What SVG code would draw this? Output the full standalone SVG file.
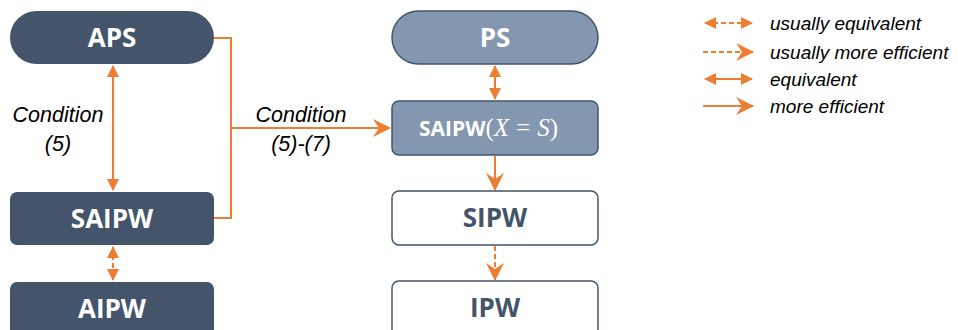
<svg xmlns="http://www.w3.org/2000/svg" width="958" height="330" viewBox="0 0 958 330">
<style>
.dark{fill:#44546A}
.mid{fill:#8497B0;stroke:#44546A;stroke-width:1.5}
.light{fill:#FFFFFF;stroke:#44546A;stroke-width:1.5}
.nt{font-family:"Open Sans","Liberation Sans",sans-serif;font-weight:bold;font-size:26px;text-anchor:middle}
.w{fill:#FFFFFF}
.d{fill:#44546A}
.lbl{font-family:"Liberation Sans",Arial,sans-serif;font-style:italic;font-size:21.5px;fill:#000;text-anchor:middle}
.leg{font-family:"Liberation Sans",Arial,sans-serif;font-style:italic;font-size:19px;fill:#000}
.c{stroke:#ED7D31;stroke-width:2;fill:none}
.dash{stroke-dasharray:5,3}
</style>
<defs>
<marker id="tri" markerUnits="userSpaceOnUse" markerWidth="12" markerHeight="12" refX="11" refY="6" orient="auto-start-reverse" viewBox="0 0 12 12">
<path d="M0,0 L12,6 L0,12 Z" fill="#ED7D31"/>
</marker>
<marker id="stealth" markerUnits="userSpaceOnUse" markerWidth="18" markerHeight="18" refX="17" refY="9" orient="auto" viewBox="0 0 18 18">
<path d="M0,0 L18,9 L0,18 L6,9 Z" fill="#ED7D31"/>
</marker>
</defs>
<g id="APS"><rect class="dark" x="10" y="11" width="204" height="53" rx="26.5"/><text class="nt w" x="112" y="47">APS</text></g>
<g id="SAIPW-left"><rect class="dark" x="10" y="192" width="204" height="53" rx="7"/><text class="nt w" x="112" y="228">SAIPW</text></g>
<g id="AIPW"><rect class="dark" x="10" y="282" width="204" height="60" rx="7"/><text class="nt w" x="112" y="318">AIPW</text></g>
<g id="PS"><rect class="mid" x="392" y="11" width="206" height="53" rx="26.5"/><text class="nt w" x="495" y="47">PS</text></g>
<g id="SAIPW-XS"><rect class="mid" x="392" y="101" width="206" height="54" rx="7"/><text x="419" y="136" class="w"><tspan font-family="'Open Sans','Liberation Sans',sans-serif" font-weight="bold" font-size="21">SAIPW</tspan><tspan font-family="'Liberation Serif',serif" font-size="25">(<tspan font-style="italic">X</tspan><tspan dx="7">=</tspan><tspan dx="7" font-style="italic">S</tspan>)</tspan></text></g>
<g id="SIPW"><rect class="light" x="392" y="191" width="206" height="54" rx="7"/><text class="nt d" x="495" y="227">SIPW</text></g>
<g id="IPW"><rect class="light" x="392" y="281" width="206" height="60" rx="7"/><text class="nt d" x="495" y="317">IPW</text></g>
<g id="connectors">
<line class="c" x1="113" y1="66" x2="113" y2="190" marker-start="url(#tri)" marker-end="url(#tri)"/>
<line class="c dash" x1="113" y1="247" x2="113" y2="280" marker-start="url(#tri)" marker-end="url(#tri)"/>
<polyline class="c" points="214,38 231,38 231,218 214,218"/>
<line class="c" x1="231" y1="128" x2="390" y2="128" marker-end="url(#stealth)"/>
<line class="c" x1="495" y1="66" x2="495" y2="99" marker-start="url(#tri)" marker-end="url(#tri)"/>
<line class="c" x1="495" y1="156" x2="495" y2="190" marker-end="url(#stealth)"/>
<line class="c dash" x1="495" y1="246" x2="495" y2="280" marker-end="url(#stealth)"/>
<line class="c dash" x1="705" y1="23" x2="752" y2="23" marker-start="url(#tri)" marker-end="url(#tri)"/>
<line class="c dash" x1="703" y1="52" x2="753" y2="52" marker-end="url(#stealth)"/>
<line class="c" x1="705" y1="79" x2="752" y2="79" marker-start="url(#tri)" marker-end="url(#tri)"/>
<line class="c" x1="703" y1="106" x2="753" y2="106" marker-end="url(#stealth)"/>
</g>
<g id="labels">
<text class="lbl" x="58" y="122">Condition</text>
<text class="lbl" x="58" y="151">(5)</text>
<text class="lbl" x="301" y="122">Condition</text>
<text class="lbl" x="301" y="151">(5)-(7)</text>
</g>
<g id="legend">
<text class="leg" x="770" y="30">usually equivalent</text>
<text class="leg" x="770" y="59">usually more efficient</text>
<text class="leg" x="770" y="86">equivalent</text>
<text class="leg" x="770" y="113">more efficient</text>
</g>
</svg>
